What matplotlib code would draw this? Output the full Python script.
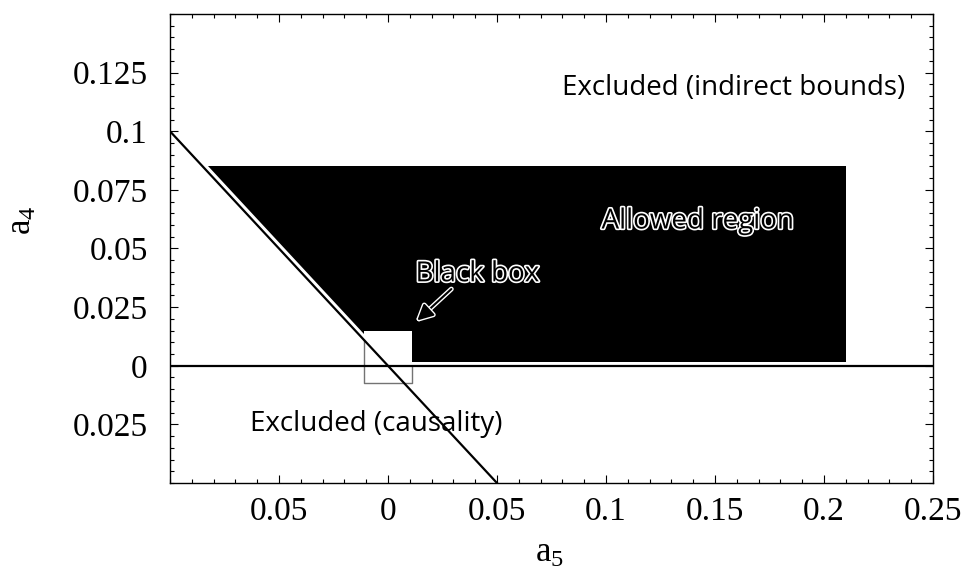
import matplotlib.pyplot as plt
import matplotlib.patheffects as pe
from matplotlib.ticker import MultipleLocator, FixedLocator, FixedFormatter

# axis ranges
A5_RANGE = (-0.1, 0.25)
A4_RANGE = (-0.05, 0.15)

# ticks (minus signs are lost in the original scan, labels kept as printed)
x_ticks = [-0.05, 0, 0.05, 0.1, 0.15, 0.2, 0.25]
x_labels = ["0.05", "0", "0.05", "0.1", "0.15", "0.2", "0.25"]
y_ticks = [-0.025, 0, 0.025, 0.05, 0.075, 0.1, 0.125]
y_labels = ["0.025", "0", "0.025", "0.05", "0.075", "0.1", "0.125"]

# causality bound a4 = -a5
causal_a5 = [-0.1, 0.05]
causal_a4 = [0.1, -0.05]

# allowed region (black)
allowed_a5 = [-0.0825, 0.21, 0.21, 0.001]
allowed_a4 = [0.085, 0.085, 0.0015, 0.0015]

# "black box" (white) and its grey outline
box_a5 = [-0.011, 0.011, 0.011, -0.011]
box_a4 = [0.0, 0.0, 0.015, 0.015]
outline_a5 = [-0.011, -0.011, 0.011, 0.011]
outline_a4 = [0.011, -0.0075, -0.0075, 0.0]

fig = plt.figure(figsize=(9.74, 5.71), dpi=100)
ax = fig.add_axes([0.1745, 0.1541, 0.7834, 0.8214])

ax.fill(allowed_a5, allowed_a4, color="black", lw=0, zorder=1)
ax.fill(box_a5, box_a4, color="white", lw=0, zorder=2)
ax.plot(outline_a5, outline_a4, color="0.45", lw=1, zorder=2)
ax.axhline(0, color="black", lw=1.6, zorder=3)
ax.plot(causal_a5, causal_a4, color="black", lw=1.6, zorder=3)

txt = dict(family="Open Sans", fontsize=20)
outline = [pe.withStroke(linewidth=2.4, foreground="white")]
ax.text(0.1585, 0.1185, "Excluded (indirect bounds)", ha="center", va="center", **txt)
ax.text(-0.0055, -0.025, "Excluded (causality)", ha="center", va="center", **txt)
ax.text(0.142, 0.0615, "Allowed region", ha="center", va="center",
        color="black", path_effects=outline, **txt)
ax.text(0.041, 0.039, "Black box", ha="center", va="center",
        color="black", path_effects=outline, **txt)
ax.annotate("", xy=(0.0125, 0.0185), xytext=(0.030, 0.0335),
            arrowprops=dict(arrowstyle="-|>", color="black", lw=1.5,
                            mutation_scale=24,
                            path_effects=[pe.withStroke(linewidth=3.5, foreground="white")]),
            zorder=4)

ax.set_xlim(*A5_RANGE)
ax.set_ylim(*A4_RANGE)
ax.xaxis.set_major_locator(FixedLocator(x_ticks))
ax.xaxis.set_major_formatter(FixedFormatter(x_labels))
ax.yaxis.set_major_locator(FixedLocator(y_ticks))
ax.yaxis.set_major_formatter(FixedFormatter(y_labels))
ax.xaxis.set_minor_locator(MultipleLocator(0.01))
ax.yaxis.set_minor_locator(MultipleLocator(0.005))
ax.tick_params(which="both", direction="in", top=True, right=True, width=0.8)
ax.tick_params(which="major", length=6, labelsize=24)
ax.tick_params(axis="x", which="major", pad=10)
ax.tick_params(axis="y", which="major", pad=16)
ax.tick_params(which="minor", length=3)
for lab in ax.get_xticklabels() + ax.get_yticklabels():
    lab.set_family("Liberation Serif")
for s in ax.spines.values():
    s.set_linewidth(1.0)

ax.set_xlabel(r"$\mathregular{a_5}$", family="Liberation Serif", fontsize=25)
ax.set_ylabel(r"$\mathregular{a_4}$", family="Liberation Serif", fontsize=25)
ax.xaxis.set_label_coords(0.498, -0.115)
ax.yaxis.set_label_coords(-0.172, 0.56)

fig.savefig("out.png", dpi=100)
